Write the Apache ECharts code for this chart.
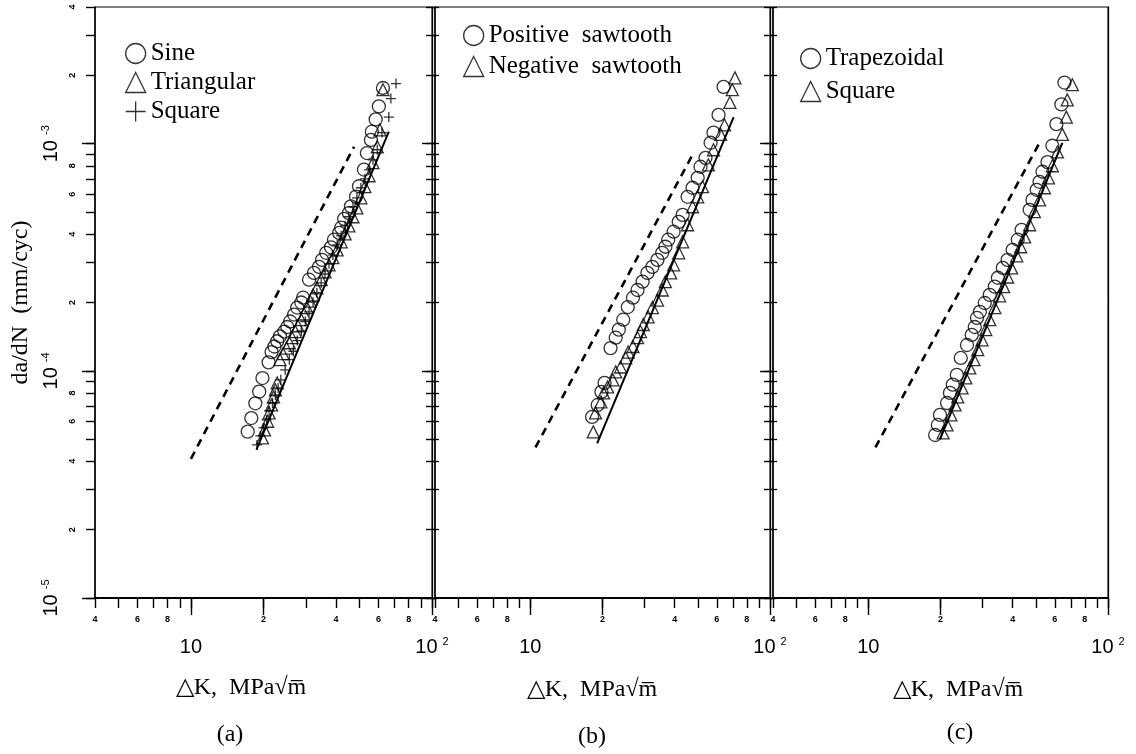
<!DOCTYPE html>
<html><head><meta charset="utf-8">
<script src="https://cdn.jsdelivr.net/npm/echarts@6/dist/echarts.min.js"></script>
<style>html,body{margin:0;padding:0;background:#fff}#c{width:1136px;height:754px}</style>
</head><body><div id="c"></div>
<script>
// ---------- data: [ΔK (MPa√m), da/dN (mm/cyc)] ----------
const sineA = [[17.2,5.4e-5],[17.8,6.2e-5],[18.5,7.2e-5],[19.2,8.1e-5],[19.8,9.3e-5],[21.0,1.09e-4],[21.6,1.21e-4],[22.2,1.28e-4],[22.8,1.35e-4],[23.4,1.42e-4],[24.4,1.49e-4],[25.1,1.56e-4],[25.8,1.65e-4],[26.8,1.77e-4],[27.6,1.90e-4],[28.7,2.0e-4],[29.2,2.10e-4],[30.9,2.52e-4],[32.4,2.70e-4],[34.0,2.87e-4],[35.0,3.08e-4],[36.4,3.31e-4],[38.1,3.5e-4],[39.2,3.78e-4],[41.2,4.05e-4],[42.0,4.27e-4],[43.2,4.67e-4],[45.2,4.95e-4],[46.1,5.3e-4],[48.4,5.85e-4],[49.8,6.5e-4],[52.2,7.7e-4],[53.7,9.1e-4],[55.8,1.04e-3],[56.3,1.13e-3],[58.4,1.28e-3],[60.2,1.46e-3],[62.6,1.76e-3]];
const triangularA = [[19.8,5.07e-5],[20.2,5.5e-5],[20.8,6.0e-5],[21.1,6.53e-5],[21.6,7.08e-5],[22.0,7.68e-5],[22.4,8.25e-5],[22.8,8.85e-5],[23.4,1.12e-4],[24.1,1.19e-4],[24.9,1.26e-4],[25.6,1.33e-4],[26.3,1.40e-4],[27.1,1.49e-4],[27.8,1.58e-4],[28.7,1.68e-4],[29.5,1.78e-4],[30.3,1.90e-4],[31.2,2.03e-4],[32.1,2.16e-4],[33.3,2.32e-4],[34.7,2.52e-4],[36.0,2.73e-4],[37.4,2.93e-4],[38.8,3.15e-4],[40.4,3.41e-4],[42.0,3.70e-4],[43.6,4.01e-4],[45.2,4.35e-4],[47.0,4.77e-4],[48.8,5.22e-4],[50.7,5.78e-4],[52.7,6.47e-4],[54.8,7.23e-4],[56.9,8.25e-4],[59.3,9.70e-4],[60.8,1.15e-3],[62.6,1.73e-3]];
const squareA = [[18.8,4.72e-5],[19.4,5.17e-5],[20.0,5.61e-5],[20.6,6.08e-5],[21.1,6.66e-5],[21.8,7.22e-5],[22.4,7.84e-5],[23.0,8.41e-5],[23.6,9.13e-5],[24.6,1.01e-4],[25.6,1.12e-4],[26.6,1.22e-4],[27.6,1.36e-4],[28.7,1.50e-4],[29.8,1.65e-4],[30.9,1.82e-4],[32.1,2.01e-4],[33.3,2.21e-4],[34.7,2.44e-4],[36.0,2.67e-4],[37.4,2.96e-4],[38.8,3.24e-4],[40.4,3.59e-4],[42.0,3.93e-4],[43.6,4.35e-4],[45.2,4.77e-4],[47.0,5.28e-4],[48.8,5.78e-4],[50.7,6.40e-4],[52.7,7.01e-4],[54.8,7.68e-4],[56.9,8.50e-4],[59.3,9.41e-4],[62.0,1.12e-3],[66.2,1.31e-3],[67.5,1.58e-3],[70.9,1.84e-3]];
const dashA = [[10.0,4.1e-5],[47.5,9.7e-4]];
const solidA = [[18.7,4.5e-5],[66.2,1.13e-3]];

const posSawB = [[18.1,6.27e-5],[19.1,7.08e-5],[19.8,8.08e-5],[20.4,8.85e-5],[21.6,1.26e-4],[22.7,1.40e-4],[23.4,1.52e-4],[24.4,1.68e-4],[25.5,1.91e-4],[26.8,2.10e-4],[28.0,2.27e-4],[29.4,2.47e-4],[30.8,2.70e-4],[32.3,2.87e-4],[33.9,3.08e-4],[35.5,3.31e-4],[36.6,3.52e-4],[37.6,3.78e-4],[39.6,4.10e-4],[41.6,4.53e-4],[43.2,4.86e-4],[45.3,5.84e-4],[47.5,6.40e-4],[49.9,7.08e-4],[51.3,7.92e-4],[53.8,8.67e-4],[56.5,1.01e-3],[58.1,1.12e-3],[61.0,1.34e-3],[64.0,1.78e-3]];
const negSawB = [[18.3,5.39e-5],[18.7,6.53e-5],[19.7,7.30e-5],[20.2,8.0e-5],[21.0,8.5e-5],[22.1,9.13e-5],[22.7,9.9e-5],[23.8,1.04e-4],[25.0,1.14e-4],[25.6,1.21e-4],[26.8,1.28e-4],[28.0,1.40e-4],[28.8,1.49e-4],[29.6,1.60e-4],[31.0,1.73e-4],[32.3,1.90e-4],[33.9,2.05e-4],[35.5,2.27e-4],[36.6,2.47e-4],[38.5,2.70e-4],[39.6,2.93e-4],[41.6,3.31e-4],[43.2,3.70e-4],[45.3,4.40e-4],[47.5,5.28e-4],[49.9,5.84e-4],[52.3,6.47e-4],[55.3,8.07e-4],[58.1,9.41e-4],[62.2,1.10e-3],[64.6,1.21e-3],[68.0,1.52e-3],[69.6,1.73e-3],[71.4,1.95e-3]];
const dashB = [[10.5,4.6e-5],[48.2,9.2e-4]];
const solidB = [[19.0,4.8e-5],[70.5,1.31e-3]];

const trapC = [[19.0,5.22e-5],[19.5,5.78e-5],[19.9,6.40e-5],[21.3,7.22e-5],[21.9,8.0e-5],[22.5,8.7e-5],[23.4,9.6e-5],[24.3,1.14e-4],[25.8,1.30e-4],[27.0,1.44e-4],[27.8,1.56e-4],[28.4,1.71e-4],[29.2,1.82e-4],[30.6,1.99e-4],[32.1,2.16e-4],[33.7,2.35e-4],[34.7,2.57e-4],[36.4,2.84e-4],[38.1,3.08e-4],[40.0,3.41e-4],[42.0,3.78e-4],[43.6,4.18e-4],[47.1,5.12e-4],[48.4,5.66e-4],[50.4,6.27e-4],[51.8,6.80e-4],[53.3,7.53e-4],[55.9,8.3e-4],[58.6,9.8e-4],[60.9,1.22e-3],[63.9,1.49e-3],[65.8,1.86e-3]];
const squareC = [[20.5,5.33e-5],[21.3,5.78e-5],[22.1,6.4e-5],[23.0,7.08e-5],[23.6,7.68e-5],[24.6,8.41e-5],[25.5,9.31e-5],[26.5,1.03e-4],[27.6,1.12e-4],[28.6,1.24e-4],[29.8,1.37e-4],[30.9,1.52e-4],[32.1,1.68e-4],[33.7,1.90e-4],[35.3,2.14e-4],[36.7,2.35e-4],[38.1,2.59e-4],[39.6,2.84e-4],[41.6,3.21e-4],[43.2,3.52e-4],[44.9,3.89e-4],[47.1,4.40e-4],[49.3,5.02e-4],[51.8,5.66e-4],[54.3,6.40e-4],[56.4,7.08e-4],[58.6,8.0e-4],[61.5,9.2e-4],[64.5,1.10e-3],[67.0,1.31e-3],[67.6,1.56e-3],[71.0,1.82e-3]];
const dashC = [[10.7,4.6e-5],[51.8,1.01e-3]];
const solidC = [[19.9,5.0e-5],[64.5,1.01e-3]];

// ---------- axis ticks / labels ----------
const xTickValues = [4,5,6,7,8,9,10,20,30,40,50,60,70,80,90,100];
const xMinorLabelValues = [4,6,8,20,40,60,80];
const xLongTickValues = [10,20,100];
const xDecadeValues = [10,100];
const yTickValues = [1e-5,2e-5,3e-5,4e-5,5e-5,6e-5,7e-5,8e-5,9e-5,1e-4,2e-4,3e-4,4e-4,5e-4,6e-4,7e-4,8e-4,9e-4,1e-3,2e-3,3e-3,4e-3];
const yMinorLabelValues = [2e-5,4e-5,6e-5,8e-5,2e-4,4e-4,6e-4,8e-4,2e-3,4e-3];
const yDecadeValues = [1e-5,1e-4,1e-3];

const legendA = ['Sine','Triangular','Square'];
const legendB = ['Positive  sawtooth','Negative  sawtooth'];
const legendC = ['Trapezoidal','Square'];
const xTitle = '\u25B3K,  MPa\u221Am\u0305';
const yTitle = 'da/dN  (mm/cyc)';
const panelLabels = ['(a)','(b)','(c)'];

// ---------- build ----------
const L10 = Math.log10;
const SERIF = '"Liberation Serif","Times New Roman",serif';
const SANS = '"Liberation Sans",Arial,sans-serif';
const PLUS = 'path://M5,0L5,10M0,5L10,5';
const XMIN = 4, XMAX = 100, YMIN = 1e-5, YMAX = 4e-3;

const grids = [
  {left: 95, width: 337},
  {left: 435, width: 335},
  {left: 773, width: 335}
];

const xAxes = [], yAxes = [];
grids.forEach((g, p) => {
  xAxes.push({gridIndex: p, type: 'log', min: XMIN, max: XMAX, show: false});
  xAxes.push({
    gridIndex: p, type: 'value', min: L10(XMIN), max: L10(XMAX), position: 'bottom',
    axisLine: {onZero: false, lineStyle: {color: '#000', width: 2}},
    axisTick: {customValues: xTickValues.map(L10), length: 10, lineStyle: {color: '#000', width: 1.4}},
    axisLabel: {customValues: xMinorLabelValues.map(L10), margin: 17,
      formatter: v => { const k = Math.round(Math.pow(10, v)); return String(k >= 10 ? k / 10 : k); },
      fontFamily: SANS, fontWeight: 'bold', fontSize: 9, color: '#000'},
    splitLine: {show: false}
  });
  xAxes.push({
    gridIndex: p, type: 'value', min: L10(XMIN), max: L10(XMAX), position: 'bottom',
    axisLine: {show: false, onZero: false},
    axisTick: {customValues: xLongTickValues.map(L10), length: 17, lineStyle: {color: '#000', width: 1.4}},
    axisLabel: {customValues: xDecadeValues.map(L10), margin: 38,
      formatter: v => Math.round(v) === 1 ? '{b|10}' : '{b|10}{s|2}',
      rich: {b: {fontFamily: SANS, fontSize: 20, color: '#000', lineHeight: 22},
             s: {fontFamily: SANS, fontSize: 11, color: '#000', verticalAlign: 'top', padding: [0, 0, 0, 5]}}},
    splitLine: {show: false}
  });

  yAxes.push({gridIndex: p, type: 'log', min: YMIN, max: YMAX, show: false});
  yAxes.push({
    gridIndex: p, type: 'value', min: L10(YMIN), max: L10(YMAX), position: 'left',
    axisLine: {onZero: false, lineStyle: {color: '#000', width: 1.5}},
    axisTick: {customValues: yTickValues.map(L10), length: 9, lineStyle: {color: '#000', width: 1.4}},
    axisLabel: {show: p === 0, customValues: yMinorLabelValues.map(L10), rotate: 90, margin: 18,
      formatter: v => String(Math.round(Math.pow(10, v - Math.floor(v + 1e-9)))),
      fontFamily: SANS, fontWeight: 'bold', fontSize: 9, color: '#000'},
    name: p === 0 ? yTitle : '', nameLocation: 'middle', nameGap: 62, nameRotate: 90,
    nameTextStyle: {fontFamily: SERIF, fontSize: 24, color: '#000'},
    splitLine: {show: false}
  });
  yAxes.push({
    gridIndex: p, type: 'value', min: L10(YMIN), max: L10(YMAX), position: 'left',
    axisLine: {show: false, onZero: false},
    axisTick: {customValues: yDecadeValues.map(L10), length: 13, lineStyle: {color: '#000', width: 1.4}},
    axisLabel: {show: p === 0, customValues: yDecadeValues.map(L10), rotate: 90, margin: 33,
      formatter: v => '{b|10}{s|' + Math.round(v) + '}',
      rich: {b: {fontFamily: SANS, fontSize: 20, color: '#000', lineHeight: 22},
             s: {fontFamily: SANS, fontSize: 11, color: '#000', verticalAlign: 'top', padding: [0, 0, 0, 5]}}},
    splitLine: {show: false}
  });
  yAxes.push({
    gridIndex: p, type: 'value', min: L10(YMIN), max: L10(YMAX), position: 'right',
    axisLine: {show: true, onZero: false, lineStyle: {color: '#000', width: 1.3}},
    axisTick: {show: p < 2, customValues: yTickValues.map(L10), length: 7, lineStyle: {color: '#000', width: 1.3}},
    axisLabel: {show: false}, splitLine: {show: false}
  });
});

function scatter(name, data, symbol, size, p) {
  return {type: 'scatter', name, data, symbol, symbolSize: size,
    xAxisIndex: 3 * p, yAxisIndex: 4 * p, silent: true, z: 3,
    itemStyle: {color: 'rgba(0,0,0,0)', borderColor: '#000', borderWidth: 1.3}};
}
function fit(data, dashed, p) {
  return {type: 'line', data, symbol: 'none', showSymbol: false, silent: true, z: 2,
    xAxisIndex: 3 * p, yAxisIndex: 4 * p,
    lineStyle: {color: '#000', width: dashed ? 2.6 : 2, type: dashed ? [8, 6] : 'solid'}};
}

const series = [
  scatter(legendA[0], sineA, 'circle', 13, 0),
  scatter(legendA[1], triangularA, 'triangle', 12, 0),
  scatter(legendA[2], squareA, PLUS, 10, 0),
  fit(dashA, true, 0), fit(solidA, false, 0),
  scatter(legendB[0], posSawB, 'circle', 13, 1),
  scatter(legendB[1], negSawB, 'triangle', 12, 1),
  fit(dashB, true, 1), fit(solidB, false, 1),
  scatter(legendC[0], trapC, 'circle', 13, 2),
  scatter(legendC[1] + ' ', squareC, 'triangle', 12, 2),
  fit(dashC, true, 2), fit(solidC, false, 2)
];

const legendBase = {orient: 'vertical', itemWidth: 20, itemHeight: 20, padding: 0, selectedMode: false,
  textStyle: {fontFamily: SERIF, fontSize: 25, color: '#000', lineHeight: 24},
  itemStyle: {color: 'rgba(0,0,0,0)', borderColor: '#000', borderWidth: 1.3}};
const legends = [
  Object.assign({}, legendBase, {left: 125, top: 41, itemGap: 4,
    data: [{name: legendA[0], icon: 'circle'}, {name: legendA[1], icon: 'triangle'}, {name: legendA[2], icon: PLUS}]}),
  Object.assign({}, legendBase, {left: 463, top: 23, itemGap: 6,
    data: [{name: legendB[0], icon: 'circle'}, {name: legendB[1], icon: 'triangle'}]}),
  Object.assign({}, legendBase, {left: 800, top: 46, itemGap: 8,
    formatter: n => n.trim(),
    data: [{name: legendC[0], icon: 'circle'}, {name: legendC[1] + ' ', icon: 'triangle'}]})
];

const titleCenters = [[241, 688], [592, 690], [958, 690]];
const labelCenters = [[230, 735], [592, 737], [960, 733]];
const graphics = [];
titleCenters.forEach((c, i) => {
  graphics.push({type: 'text', x: c[0], y: c[1], style: {text: xTitle, font: '24px ' + SERIF, fill: '#000', textAlign: 'center', textVerticalAlign: 'middle'}});
  graphics.push({type: 'text', x: labelCenters[i][0], y: labelCenters[i][1], style: {text: panelLabels[i], font: '24px ' + SERIF, fill: '#000', textAlign: 'center', textVerticalAlign: 'middle'}});
});

const chart = echarts.init(document.getElementById('c'), null, {renderer: 'canvas'});
chart.setOption({
  animation: false,
  backgroundColor: '#fff',
  grid: grids.map(g => ({left: g.left, width: g.width, top: 7, height: 591, show: true, borderColor: '#000', borderWidth: 1})),
  xAxis: xAxes,
  yAxis: yAxes,
  legend: legends,
  graphic: graphics,
  series
});
</script></body></html>
